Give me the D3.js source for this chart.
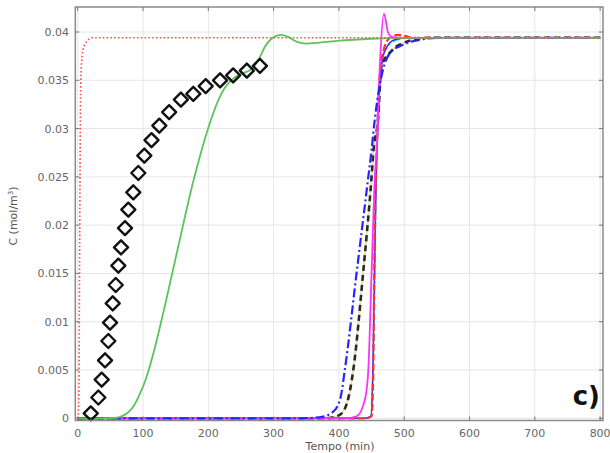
<!DOCTYPE html>
<html>
<head>
<meta charset="utf-8">
<script src="https://cdn.jsdelivr.net/npm/d3@7"></script>
<style>
  html, body { margin: 0; padding: 0; background: #fff; }
  svg { display: block; }
  text { font-family: "DejaVu Sans", sans-serif; }
</style>
</head>
<body>
<svg id="chart" width="610" height="453"></svg>
<script>
// Time axis ticks (min) and concentration ticks (mol/m³)
const xTicks = [0, 100, 200, 300, 400, 500, 600, 700, 800];
const yTicks = [0, 0.005, 0.01, 0.015, 0.02, 0.025, 0.03, 0.035, 0.04];
const yTickLabels = ["0", "0.005", "0.01", "0.015", "0.02", "0.025", "0.03", "0.035", "0.04"];

// Experimental breakthrough points [t, C]
const experimental = [
  [20, 0.0005], [31.6, 0.00215], [36.7, 0.0040], [41.8, 0.0060], [46.9, 0.0080],
  [49.5, 0.0099], [53.6, 0.0119], [58.2, 0.0138], [62.2, 0.0158], [66.3, 0.0177],
  [72.4, 0.0197], [77.5, 0.0216], [85.1, 0.0234], [92.8, 0.0254], [102, 0.0272],
  [113, 0.0288], [125, 0.0303], [140, 0.0317], [158, 0.0330], [177, 0.0336],
  [196, 0.0344], [218, 0.0350], [238, 0.0355], [259, 0.0360], [279, 0.0365]
];

// Simulated curves [t, C]
const fastRed = [
  [0, 0], [1, 0.0004], [2, 0.004], [3, 0.018], [4, 0.031], [5, 0.0355], [7, 0.0376],
  [10, 0.0386], [15, 0.0391], [22, 0.0394], [800, 0.0394]
];
const greenCurve = [
  [0, 0], [40, 0], [55, 0.00003], [65, 0.00015], [75, 0.0005], [85, 0.0012],
  [95, 0.0025], [105, 0.0042], [115, 0.0065], [125, 0.0092], [135, 0.0121],
  [145, 0.0151], [155, 0.0181], [165, 0.0211], [175, 0.0240], [185, 0.0266],
  [195, 0.0290], [205, 0.0311], [215, 0.0329], [225, 0.0342], [235, 0.0350],
  [245, 0.0355], [255, 0.0358], [265, 0.0361], [272, 0.0366], [279, 0.0374],
  [286, 0.0384], [295, 0.0392], [304, 0.0396], [312, 0.0397], [322, 0.0395],
  [335, 0.0390], [350, 0.0388], [370, 0.0389], [400, 0.0391], [450, 0.0393],
  [500, 0.0394], [800, 0.0394]
];
const magentaCurve = [
  [0, 0], [410, 0], [427, 0.0002], [440, 0.002], [445, 0.005], [450, 0.015],
  [455, 0.025], [458, 0.028], [463, 0.037], [469, 0.0419], [475, 0.0400],
  [481, 0.0395], [500, 0.0394], [800, 0.0394]
];
const blueSolid = [
  [0, 0], [440, 0], [449, 0.0002], [452, 0.005], [454.5, 0.015], [457, 0.025],
  [459, 0.029], [463, 0.035], [470, 0.038], [485, 0.0392], [505, 0.0394], [800, 0.0394]
];
const redDashed = [
  [0, 0], [440, 0], [450, 0.0002], [452.7, 0.005], [454, 0.015], [456.7, 0.025],
  [458, 0.028], [462, 0.035], [468, 0.038], [478, 0.0394], [490, 0.0397],
  [500, 0.0396], [515, 0.0394], [800, 0.0394]
];
const cyanCurve = [
  [0, 0], [440, 0], [449, 0.0002], [452, 0.005], [455, 0.015], [457, 0.025],
  [459, 0.030], [465, 0.037], [475, 0.0385], [490, 0.0392], [510, 0.0394], [800, 0.0394]
];
const blackCurve = [
  [0, 0], [380, 0], [400, 0.0003], [412, 0.0015], [422, 0.005], [437, 0.015],
  [450, 0.025], [453, 0.0278], [460, 0.031], [465, 0.0364], [480, 0.0380],
  [504, 0.0390], [539, 0.0394], [800, 0.0394]
];
const blueDashDot = [
  [0, 0], [340, 0], [370, 0.0001], [390, 0.0006], [402, 0.002], [409, 0.005],
  [427, 0.015], [445, 0.025], [450, 0.0278], [455, 0.031], [463, 0.0347],
  [478, 0.0378], [499, 0.0387], [524, 0.0392], [550, 0.0394], [800, 0.0394]
];

const svg = d3.select("#chart");
const plot = { left: 75.3, right: 603, top: 7, bottom: 420.5 };

const x = d3.scaleLinear().domain([-3.7, 804.4]).range([plot.left, plot.right]);
const y = d3.scaleLinear().domain([-0.00023, 0.04259]).range([plot.bottom, plot.top]);

// grid
const grid = svg.append("g");
grid.selectAll("line.vx").data(xTicks).join("line")
  .attr("x1", d => x(d)).attr("x2", d => x(d))
  .attr("y1", plot.top).attr("y2", plot.bottom)
  .attr("stroke", "#e6e6e6").attr("stroke-width", 1);
grid.selectAll("line.hy").data(yTicks).join("line")
  .attr("y1", d => y(d)).attr("y2", d => y(d))
  .attr("x1", plot.left).attr("x2", plot.right)
  .attr("stroke", "#e6e6e6").attr("stroke-width", 1);

// curves
const line = d3.line().x(d => x(d[0])).y(d => y(d[1])).curve(d3.curveMonotoneX);
const curves = svg.append("g").attr("fill", "none");

function draw(data, color, width, dash) {
  const p = curves.append("path").datum(data).attr("d", line)
    .attr("stroke", color).attr("stroke-width", width)
    .attr("stroke-linejoin", "round");
  if (dash) p.attr("stroke-dasharray", dash);
  return p;
}

draw(blackCurve, "#e8e0a8", 2);
draw(blackCurve, "#2a2a2a", 2.6, "6,4");
draw(cyanCurve, "#4fd8ff", 1.8, "8,3,2,3");
draw(blueSolid, "#3030ff", 1.5);
draw(redDashed, "#ff3030", 2.2, "7,3");
draw(magentaCurve, "#ff30ff", 1.8);
draw(blueDashDot, "#2424ff", 2.2, "9,3,2,3");
draw(greenCurve, "#5cc45c", 1.8);
draw(fastRed, "#ff4a4a", 1.6, "1.6,2.2");

// experimental points: open diamonds
const r = 7;
svg.append("g").selectAll("path").data(experimental).join("path")
  .attr("d", `M0,${-r}L${r},0L0,${r}L${-r},0Z`)
  .attr("transform", d => `translate(${x(d[0])},${y(d[1])})`)
  .attr("fill", "none").attr("stroke", "#111").attr("stroke-width", 2.4)
  .attr("stroke-linejoin", "round");

// frame
svg.append("rect")
  .attr("x", plot.left).attr("y", plot.top)
  .attr("width", plot.right - plot.left).attr("height", plot.bottom - plot.top)
  .attr("fill", "none").attr("stroke", "#8a8a8a").attr("stroke-width", 1.5);

// inward ticks on all sides
const ticks = svg.append("g").attr("stroke", "#777").attr("stroke-width", 1);
xTicks.forEach(t => {
  ticks.append("line").attr("x1", x(t)).attr("x2", x(t)).attr("y1", plot.bottom).attr("y2", plot.bottom - 4);
  ticks.append("line").attr("x1", x(t)).attr("x2", x(t)).attr("y1", plot.top).attr("y2", plot.top + 4);
});
yTicks.forEach(t => {
  ticks.append("line").attr("y1", y(t)).attr("y2", y(t)).attr("x1", plot.left).attr("x2", plot.left + 4);
  ticks.append("line").attr("y1", y(t)).attr("y2", y(t)).attr("x1", plot.right).attr("x2", plot.right - 4);
});

// tick labels
svg.append("g").selectAll("text").data(xTicks).join("text")
  .attr("x", d => x(d)).attr("y", 437)
  .attr("text-anchor", "middle").attr("font-size", 11).attr("fill", "#666")
  .text(d => d);
svg.append("g").selectAll("text").data(yTicks).join("text")
  .attr("x", 69).attr("y", d => y(d) + 4)
  .attr("text-anchor", "end").attr("font-size", 11).attr("fill", "#666")
  .text((d, i) => yTickLabels[i]);

// axis titles
svg.append("text").attr("x", 340).attr("y", 450)
  .attr("text-anchor", "middle").attr("font-size", 11).attr("fill", "#555")
  .text("Tempo (min)");
const yl = svg.append("text")
  .attr("transform", "translate(17,216) rotate(-90)")
  .attr("text-anchor", "middle").attr("font-size", 11).attr("fill", "#555");
yl.append("tspan").text("C (mol/m");
yl.append("tspan").attr("font-size", 7).attr("dy", -4).text("3");
yl.append("tspan").attr("dy", 4).text(")");

// panel label
svg.append("text").attr("x", 600).attr("y", 405)
  .attr("text-anchor", "end").attr("font-size", 26).attr("font-weight", "bold")
  .attr("font-family", "Liberation Sans, Arial, sans-serif").attr("fill", "#111")
  .text("c)");
</script>
</body>
</html>
